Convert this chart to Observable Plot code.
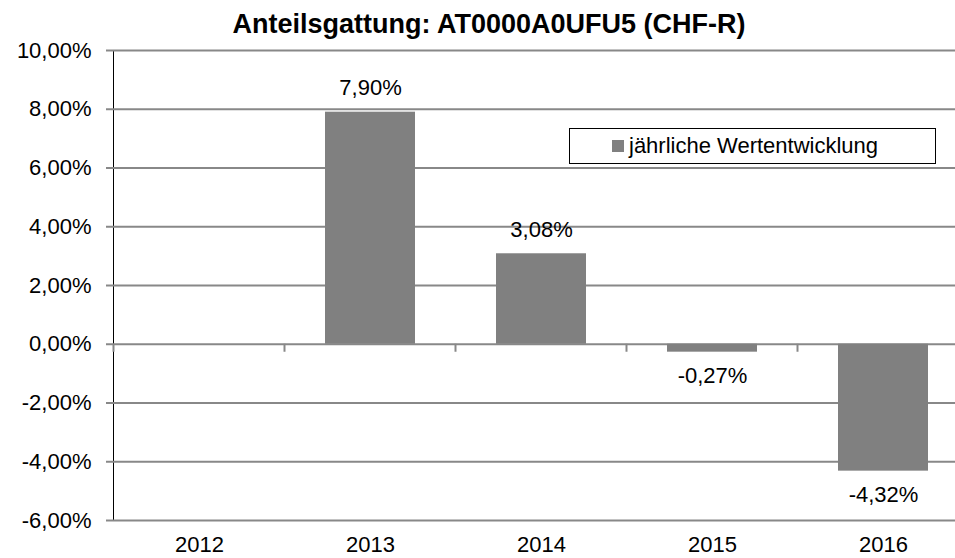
<!DOCTYPE html>
<html>
<head>
<meta charset="utf-8">
<script src="https://cdn.jsdelivr.net/npm/d3@7"></script>
<script src="https://cdn.jsdelivr.net/npm/@observablehq/plot@0.6"></script>
<style>
html, body { margin: 0; padding: 0; background: #fff; overflow: hidden; }
#wrap { position: relative; width: 955px; height: 558px; font-family: "Liberation Sans", Arial, sans-serif; }
#chart { position: absolute; left: 0; top: 0; }
#title { position: absolute; left: 489px; top: 11px; transform: translateX(-50%); white-space: nowrap; font-weight: bold; font-size: 27px; line-height: 1; color: #000; }
#legendbox { position: absolute; left: 569px; top: 128px; width: 367px; height: 36px; box-sizing: border-box; border: 1.5px solid #000; background: #fff; display: flex; align-items: center; justify-content: flex-start; padding-left: 42px; }
#legendbox div, #legendbox span { font-family: "Liberation Sans", Arial, sans-serif !important; font-size: 22px !important; color: #000 !important; margin: 0 !important; min-height: 0 !important; line-height: 1 !important; }
#legendbox svg { margin-right: 5px !important; }
#chart [aria-label^="y-axis"] line, #chart [aria-label^="y-axis"] path { stroke: #888; stroke-width: 2; }
</style>
</head>
<body>
<div id="wrap">
  <div id="chart"></div>
  <div id="title">Anteilsgattung: AT0000A0UFU5 (CHF-R)</div>
  <div id="legendbox"></div>
</div>
<script>
const titleText = "Anteilsgattung: AT0000A0UFU5 (CHF-R)";
const seriesName = "jährliche Wertentwicklung";
const years = ["2012", "2013", "2014", "2015", "2016"];
const values = [null, 7.90, 3.08, -0.27, -4.32];
const yTicks = [-6, -4, -2, 0, 2, 4, 6, 8, 10];

const barColor = "#808080";
const gridColor = "#888";
const fmt = v => v.toFixed(2).replace(".", ",") + "%";

const data = years.map((year, i) => ({year, value: values[i]}));
const shown = data.filter(d => d.value != null);
const pos = shown.filter(d => d.value > 0);
const neg = shown.filter(d => d.value < 0);

function boundaryTicks(index, scales, vals, dimensions, context) {
  const x = scales.x, y = scales.y;
  const step = x(years[1]) - x(years[0]);
  const bw = typeof x.bandwidth === "function" ? x.bandwidth() : 0;
  const gap = (step - bw) / 2;
  const xs = years.map(c => x(c) - gap);
  xs.push(x(years[years.length - 1]) + bw + gap);
  const y0 = y(0);
  const g = d3.create("svg:g").attr("aria-label", "category-ticks");
  g.selectAll("line").data(xs).join("line")
    .attr("x1", d => d).attr("x2", d => d)
    .attr("y1", y0).attr("y2", y0 + 8)
    .attr("stroke", gridColor).attr("stroke-width", 2);
  return g.node();
}

const chart = Plot.plot({
  width: 955,
  height: 558,
  marginTop: 50,
  marginBottom: 38,
  marginLeft: 113,
  marginRight: 0,
  style: {
    fontFamily: '"Liberation Sans", Arial, sans-serif',
    fontSize: "22px",
    color: "#000",
    background: "#fff",
    overflow: "visible"
  },
  x: {
    domain: years,
    range: [113, 968],
    paddingInner: 0.4737,
    paddingOuter: 0.2368,
    tickSize: 0,
    tickPadding: 16,
    label: null
  },
  y: {
    domain: [-6, 10],
    ticks: yTicks,
    tickFormat: fmt,
    tickSize: 7,
    tickPadding: 15,
    line: true,
    label: null
  },
  marks: [
    Plot.ruleY(yTicks, {stroke: gridColor, strokeWidth: 2}),
    Plot.barY(shown, {x: "year", y: "value", fill: barColor}),
    boundaryTicks,
    Plot.text(pos, {x: "year", y: "value", text: d => fmt(d.value), dy: -24, fontSize: 22, fill: "#000"}),
    Plot.text(neg, {x: "year", y: "value", text: d => fmt(d.value), dy: 24, fontSize: 22, fill: "#000"})
  ]
});
document.getElementById("chart").appendChild(chart);
document.getElementById("title").textContent = titleText;

const legend = Plot.legend({
  color: {type: "ordinal", domain: [seriesName], range: [barColor]},
  swatchSize: 12,
  className: "lg",
  style: {fontFamily: '"Liberation Sans", Arial, sans-serif', fontSize: "22px", color: "#000"}
});
document.getElementById("legendbox").appendChild(legend);
</script>
</body>
</html>
